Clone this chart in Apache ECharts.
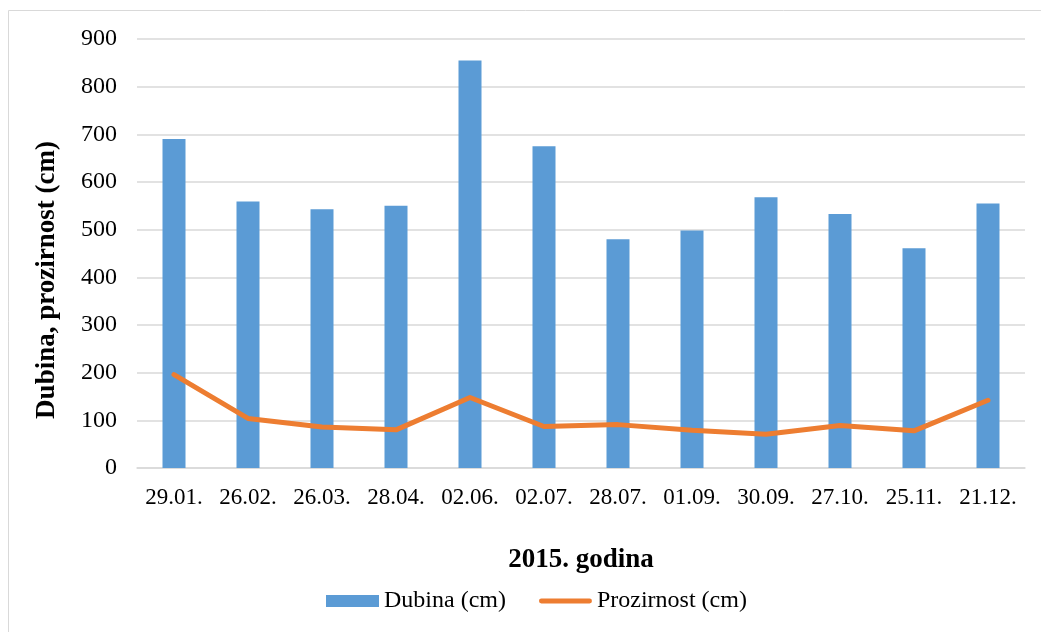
<!DOCTYPE html>
<html>
<head>
<meta charset="utf-8">
<script src="https://cdn.jsdelivr.net/npm/echarts@6/dist/echarts.min.js"></script>
<style>
  html, body { margin: 0; padding: 0; background: #fff; }
  #chart { width: 1041px; height: 632px; }
</style>
</head>
<body>
<div id="chart"></div>
<script>
// podaci sa grafikona
const dates = ['29.01.', '26.02.', '26.03.', '28.04.', '02.06.', '02.07.', '28.07.', '01.09.', '30.09.', '27.10.', '25.11.', '21.12.'];
const dubina = [690, 559, 543, 550, 855, 675, 480, 498, 568, 533, 461, 555];
const prozirnost = [196, 104, 86, 80, 148, 87, 91, 79, 71, 89, 78, 142];

document.addEventListener('DOMContentLoaded', function () {
    const chart = echarts.init(document.getElementById('chart'));
    const font = '"Liberation Serif", "Times New Roman", serif';

    chart.setOption({
        animation: false,
        textStyle: { fontFamily: font },
        grid: { left: 137, right: 16, top: 39, bottom: 164 },
        graphic: [
            {
                type: 'rect',
                shape: { x: 8.5, y: 10.5, width: 1040, height: 630 },
                style: { fill: 'none', stroke: '#d9d9d9', lineWidth: 1 }
            },
            {
                type: 'text',
                x: 47, y: 280,
                rotation: Math.PI / 2,
                style: {
                    text: 'Dubina, prozirnost (cm)',
                    font: 'bold 27px ' + font,
                    fill: '#000',
                    align: 'center',
                    verticalAlign: 'middle'
                }
            }
        ],
        legend: {
            top: 589,
            left: 326,
            padding: 0,
            itemWidth: 53,
            itemHeight: 12,
            itemGap: 33,
            textStyle: { fontFamily: font, fontSize: 24, color: '#000' },
            data: [
                { name: 'Dubina (cm)', icon: 'rect' },
                { name: 'Prozirnost (cm)', icon: 'path://M5,0L105,0A5,5 0 0 1 105,10L5,10A5,5 0 0 1 5,0Z' }
            ]
        },
        xAxis: {
            type: 'category',
            data: dates,
            name: '2015. godina',
            nameLocation: 'middle',
            nameGap: 79,
            nameTextStyle: { fontFamily: font, fontSize: 27, fontWeight: 'bold', color: '#000' },
            axisTick: { show: false },
            axisLine: { lineStyle: { color: '#d9d9d9', width: 1.5 } },
            axisLabel: { interval: 0, fontFamily: font, fontSize: 23, color: '#000', margin: 18 }
        },
        yAxis: {
            type: 'value',
            min: 0,
            max: 900,
            interval: 100,
            axisLine: { show: false },
            axisTick: { show: false },
            splitLine: { lineStyle: { color: '#d9d9d9', width: 1.5 } },
            axisLabel: { fontFamily: font, fontSize: 24, color: '#000', margin: 20 }
        },
        series: [
            {
                name: 'Dubina (cm)',
                type: 'bar',
                data: dubina,
                barWidth: 23,
                itemStyle: { color: '#5b9bd5' }
            },
            {
                name: 'Prozirnost (cm)',
                type: 'line',
                data: prozirnost,
                symbol: 'none',
                lineStyle: { color: '#ed7d31', width: 5, cap: 'round', join: 'round' },
                itemStyle: { color: '#ed7d31' }
            }
        ]
    });
});
</script>
</body>
</html>
